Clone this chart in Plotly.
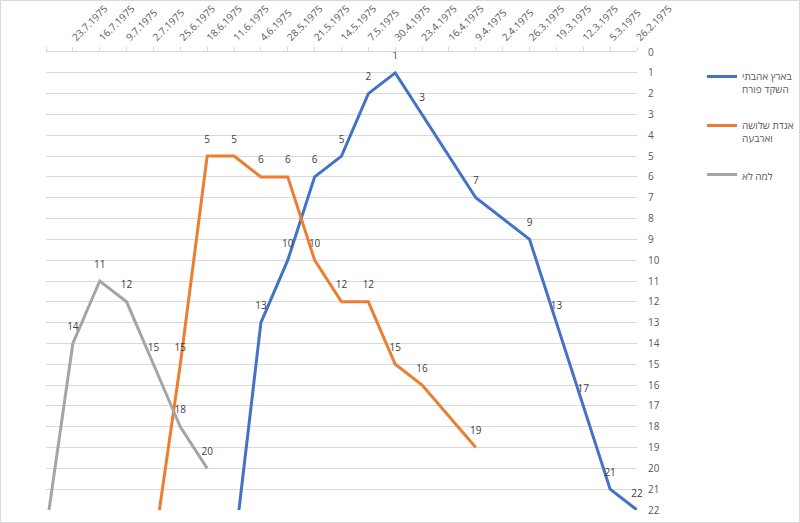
import plotly.graph_objects as go

dates = ["", "23.7.1975", "16.7.1975", "9.7.1975", "2.7.1975", "25.6.1975", "18.6.1975",
         "11.6.1975", "4.6.1975", "28.5.1975", "21.5.1975", "14.5.1975", "7.5.1975",
         "30.4.1975", "23.4.1975", "16.4.1975", "9.4.1975", "2.4.1975", "26.3.1975",
         "19.3.1975", "12.3.1975", "5.3.1975", "26.2.1975"]

names = ["בארץ אהבתי<br>השקד פורח", "אגדת שלושה<br>וארבעה", "למה לא"]

blue = [None, None, None, None, None, None, None, 24, 13, 10, 6, 5, 2, 1, 3, None, 7, None, 9, 13, 17, 21, 22]
orange = [None, None, None, None, 24, 15, 5, 5, 6, 6, 10, 12, 12, 15, 16, None, 19, None, None, None, None, None, None]
gray = [23, 14, 11, 12, 15, 18, 20, None, None, None, None, None, None, None, None, None, None, None, None, None, None, None, None]

colors = ["#4472C4", "#ED7D31", "#A5A5A5"]
ymax = 22

fig = go.Figure()
xs = list(range(len(dates)))
for i, (nm, vals) in enumerate(zip(names, [blue, orange, gray])):
    fig.add_trace(go.Scatter(
        x=xs, y=vals, name=nm, mode="lines",
        line=dict(color=colors[i], width=3), connectgaps=True,
        legendgroup=str(i), hoverinfo="skip",
    ))
for i, vals in enumerate([blue, orange, gray]):
    pts = [(x, v) for x, v in zip(xs, vals) if v is not None and v <= ymax]
    fig.add_trace(go.Scatter(
        x=[p[0] for p in pts], y=[p[1] for p in pts], mode="markers+text",
        text=[str(p[1]) for p in pts], textposition="top center",
        textfont=dict(size=10, color="#404040"),
        marker=dict(size=16, color="rgba(0,0,0,0)"),
        showlegend=False, cliponaxis=False, hoverinfo="skip",
    ))

fig.update_layout(
    width=800, height=523,
    margin=dict(l=46, r=163, t=52, b=13, autoexpand=False),
    paper_bgcolor="white", plot_bgcolor="white",
    font=dict(family="Open Sans, sans-serif", size=10, color="#595959"),
    showlegend=True,
    legend=dict(x=1.11, xanchor="left", y=0.975, yanchor="top",
                traceorder="grouped", tracegroupgap=20, valign="top",
                font=dict(size=10, color="#595959")),
    xaxis=dict(side="top", range=[0, len(dates) - 1], tickmode="array",
               tickvals=xs, ticktext=dates, tickangle=-45, automargin=False,
               ticks="outside", ticklen=4, tickcolor="#d9d9d9",
               showline=True, linecolor="#d9d9d9", linewidth=1,
               showgrid=False, zeroline=False, tickfont=dict(size=10, color="#595959")),
    yaxis=dict(side="right", range=[ymax, 0], dtick=1, tick0=0, automargin=False,
               showgrid=True, gridcolor="#d9d9d9", gridwidth=1, ticklabelstandoff=10,
               zeroline=False, showline=False, ticks="",
               tickfont=dict(size=10, color="#595959")),
    shapes=[dict(type="rect", xref="paper", yref="paper",
                 x0=-45.5 / 591, x1=753.5 / 591,
                 y0=-12.5 / 458, y1=1 + 51.5 / 458,
                 line=dict(color="#d9d9d9", width=1), fillcolor="rgba(0,0,0,0)", layer="above")],
)

fig.write_html("out.html")
